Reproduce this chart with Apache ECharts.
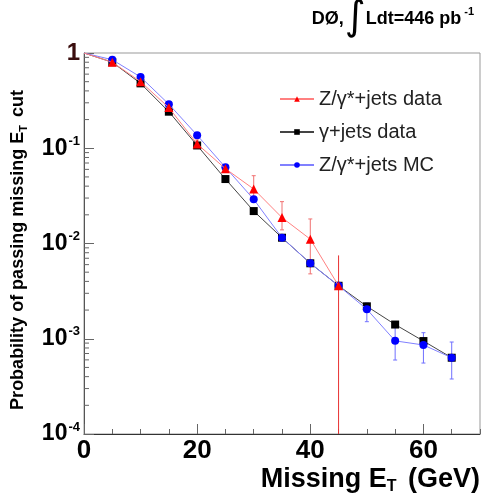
<!DOCTYPE html>
<html><head><meta charset="utf-8">
<script src="https://cdn.jsdelivr.net/npm/echarts@6/dist/echarts.min.js"></script>
<style>html,body{margin:0;padding:0;background:#fff}#c{width:485px;height:501px}</style>
</head><body><div id="c"></div>
<script>
// ---- data ----
const missingEt = [0, 5, 10, 15, 20, 25, 30, 35, 40, 45, 50, 55, 60, 65];
const zJetsData = [1, 0.80, 0.50, 0.267, 0.111, 0.061, 0.0373, 0.0187, 0.0111, 0.0036, null, null, null, null];
const zJetsDataErrLow  = [null, null, null, null, 0.100, 0.056, 0.0275, 0.0139, 0.0048, 0.0033, null, null, null, null];
const zJetsDataErrHigh = [null, null, null, null, 0.122, 0.067, 0.0515, 0.0275, 0.0181, 0.0039, null, null, null, null];
const gammaJetsData = [1, 0.80, 0.48, 0.242, 0.107, 0.0475, 0.0219, 0.0115, 0.0062, 0.0036, 0.00219, 0.00141, 0.000946, 0.000632];
const zJetsMC = [1, 0.85, 0.56, 0.29, 0.137, 0.063, 0.0291, 0.0115, 0.0062, 0.0036, 0.00204, 0.00095, 0.00086, 0.000632];
const zJetsMCErrLow  = [null, null, null, null, null, null, null, null, null, null, 0.00151, 0.000598, 0.000556, 0.000378];
const zJetsMCErrHigh = [null, null, null, null, null, null, null, null, null, null, 0.00237, 0.00146, 0.001157, 0.000924];
const cutValue = 45;
const cutLineRange = [0.0075, 0.0001];
const yDecades = [-4, -3, -2, -1];
const yMinorMultipliers = [2, 3, 4, 5, 6, 7, 8, 9];
const seriesNames = ['Z/γ*+jets data', 'γ+jets data', 'Z/γ*+jets MC'];

// ---- build ----
const FONT = '"Liberation Sans", Arial, sans-serif';
function pairs(ys) {
  return missingEt.map((x, i) => ys[i] == null ? null : (i === 0 ? { value: [x, ys[i]], symbol: 'none' } : [x, ys[i]])).filter(p => p);
}
function errs(lo, hi) { return missingEt.map((x, i) => lo[i] == null ? null : [x, lo[i], hi[i]]).filter(p => p); }
const minorTickVals = [];
yDecades.forEach(d => yMinorMultipliers.forEach(m => minorTickVals.push([0, m * Math.pow(10, d)])));

function errRender(color) {
  return function (params, api) {
    const x = api.value(0);
    const p1 = api.coord([x, api.value(1)]);
    const p2 = api.coord([x, api.value(2)]);
    const st = { stroke: color, lineWidth: 1 };
    return { type: 'group', children: [
      { type: 'line', shape: { x1: p1[0], y1: p1[1], x2: p2[0], y2: p2[1] }, style: st },
      { type: 'line', shape: { x1: p1[0] - 2, y1: p1[1], x2: p1[0] + 2, y2: p1[1] }, style: st },
      { type: 'line', shape: { x1: p2[0] - 2, y1: p2[1], x2: p2[0] + 2, y2: p2[1] }, style: st }
    ]};
  };
}

const chart = echarts.init(document.getElementById('c'), null, { renderer: 'canvas' });
chart.setOption({
  backgroundColor: '#ffffff',
  animation: false,
  textStyle: { fontFamily: FONT },
  grid: { left: 84, right: 5, top: 53, bottom: 67, show: true, borderColor: '#999', borderWidth: 1, backgroundColor: 'transparent' },
  legend: {
    orient: 'vertical', left: 274, top: 84, itemWidth: 34, itemHeight: 7, itemGap: 13,
    data: seriesNames,
    textStyle: { fontSize: 20, color: '#222', fontFamily: FONT }
  },
  xAxis: [{
    type: 'value', min: 0, max: 70, interval: 20,
    axisLine: { lineStyle: { color: '#333', width: 1 } },
    axisTick: { inside: true, length: 10, lineStyle: { color: '#666' } },
    axisLabel: { fontSize: 26, fontWeight: 'bold', color: '#000', margin: 4, showMaxLabel: false, fontFamily: FONT },
    splitLine: { show: false },
    name: '{b|Missing E}{s|T}{b| (GeV)}', nameLocation: 'end', nameGap: 0,
    nameTextStyle: { align: 'right', verticalAlign: 'top', padding: [31, 0, 0, 0],
      rich: { b: { fontSize: 27, fontWeight: 'bold', color: '#000', fontFamily: FONT },
              s: { fontSize: 16, fontWeight: 'bold', color: '#000', fontFamily: FONT, padding: [14, 4, 0, 0] } } }
  }, {
    type: 'value', min: 0, max: 70, interval: 5, position: 'bottom',
    axisLine: { show: false }, axisLabel: { show: false }, splitLine: { show: false },
    axisTick: { inside: true, length: 5, lineStyle: { color: '#666' } }
  }],
  yAxis: {
    type: 'log', logBase: 10, min: 0.0001, max: 1,
    axisLine: { show: true, lineStyle: { color: '#555', width: 1 } },
    axisTick: { show: true, inside: true, length: 10, lineStyle: { color: '#666' } },
    splitLine: { show: false },
    axisLabel: {
      margin: 4, fontFamily: FONT,
      formatter: v => {
        if (Math.abs(v - 1) < 1e-9) return '{o|1}';
        return '{b|10}{s|' + Math.round(Math.log10(v)) + '}';
      },
      rich: {
        o: { fontSize: 24, fontWeight: 'bold', color: '#3a0d0d', fontFamily: FONT },
        b: { fontSize: 23, fontWeight: 'bold', color: '#000', fontFamily: FONT },
        s: { fontSize: 13, fontWeight: 'bold', color: '#000', fontFamily: FONT, padding: [0, 0, 14, 1] }
      }
    }
  },
  graphic: [
    { type: 'text', x: 18, y: 250, rotation: Math.PI / 2,
      style: { text: '{b|Probability of passing missing E}{s|T}{b| cut}', align: 'center', verticalAlign: 'middle',
        rich: { b: { fontSize: 18, fontWeight: 'bold', fill: '#000', fontFamily: FONT },
                s: { fontSize: 11, fontWeight: 'bold', fill: '#000', fontFamily: FONT, padding: [12, 3, 0, 0] } } } },
    { type: 'text', x: 474, y: 19,
      style: { text: '{a|DØ,}{i|∫}{a|Ldt=446 pb}{s| -1}', align: 'right', verticalAlign: 'middle',
        rich: { a: { fontSize: 18, fontWeight: 'bold', fill: '#000', fontFamily: FONT },
                i: { fontSize: 40, fill: '#000', fontFamily: '"DejaVu Sans", sans-serif', padding: [0, 0, 0, 1] },
                s: { fontSize: 11, fontWeight: 'bold', fill: '#000', fontFamily: FONT, padding: [0, 0, 14, 0] } } } }
  ],
  series: [
    { type: 'custom', name: 'minorTicks', silent: true, data: minorTickVals, z: 1,
      renderItem: (params, api) => {
        const p = api.coord([0, api.value(1)]);
        return { type: 'line', shape: { x1: p[0], y1: p[1], x2: p[0] + 5, y2: p[1] }, style: { stroke: '#666', lineWidth: 1 } };
      } },
    { type: 'line', name: 'cut', silent: true, data: cutLineRange.map(v => [cutValue, v]), symbol: 'none',
      lineStyle: { color: '#e83030', width: 1 }, z: 1 },
    { type: 'custom', name: 'zErr', silent: true, data: errs(zJetsDataErrLow, zJetsDataErrHigh), renderItem: errRender('#f07070'), z: 2 },
    { type: 'custom', name: 'mcErr', silent: true, data: errs(zJetsMCErrLow, zJetsMCErrHigh), renderItem: errRender('#7070ff'), z: 2 },
    { type: 'line', name: seriesNames[1], data: pairs(gammaJetsData), symbol: 'rect', symbolSize: 8,
      itemStyle: { color: '#000' }, lineStyle: { color: '#444', width: 1 }, z: 3 },
    { type: 'line', name: seriesNames[2], data: pairs(zJetsMC), symbol: 'circle', symbolSize: 8,
      itemStyle: { color: '#0000ff' }, lineStyle: { color: '#8080ff', width: 1 }, z: 4 },
    { type: 'line', name: seriesNames[0], data: pairs(zJetsData), symbol: 'triangle', symbolSize: 9,
      itemStyle: { color: '#ff0000' }, lineStyle: { color: '#ff8080', width: 1 }, z: 5 }
  ]
});
</script></body></html>
